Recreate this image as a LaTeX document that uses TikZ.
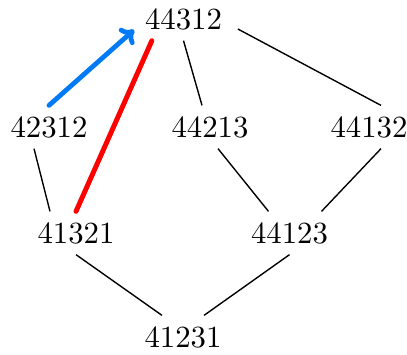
\documentclass[tikz,border=0pt]{standalone}
\usetikzlibrary{calc,arrows.meta}
\definecolor{myblue}{RGB}{0,122,245}
\tikzset{
  perm/.style={inner sep=3.33pt, font=\fontsize{10}{12}\selectfont},
  edge/.style={draw=black, line width=0.45pt},
  bluearrow/.style={draw=myblue, line width=1.55pt, line cap=round, -{To[length=4pt,width=7pt,round]}},
  redline/.style={draw=red, line width=1.6pt, line cap=round}
}
\begin{document}
\begin{tikzpicture}[x=0.3247pt, y=-0.3247pt]
\useasboundingbox (0,0) rectangle (407,354);
\node[perm] (a) at (183.5,19) {44312};
\node[perm] (b) at (49,127) {42312};
\node[perm] (c) at (210,127) {44213};
\node[perm] (d) at (369,127) {44132};
\node[perm] (e) at (76,233) {41321};
\node[perm] (f) at (289.5,233) {44123};
\node[perm] (g) at (183,337) {41231};

\draw[edge] (a.south) -- ($(c.north)+(-8,0)$);
\draw[edge] ($(a.east)+(5,10)$) -- ($(d.north)+(12,0)$);
\draw[edge] ($(b.south)+(-15,0)$) -- ($(e.north)+(-26,0)$);
\draw[edge] ($(c.south)+(8,0)$) -- ($(f.north)+(-21,0)$);
\draw[edge] ($(d.south)+(12,0)$) -- ($(f.north)+(32,0)$);
\draw[edge] (e.south) -- ($(g.north)+(-21,0)$);
\draw[edge] (f.south) -- ($(g.north)+(21,0)$);

\draw[bluearrow] (b.north) -- ($(a.west)!0.5!(a.south west)$);
\draw[redline] (e.north) -- ($(a.south west)!0.18!(a.south east)$);
\end{tikzpicture}
\end{document}
